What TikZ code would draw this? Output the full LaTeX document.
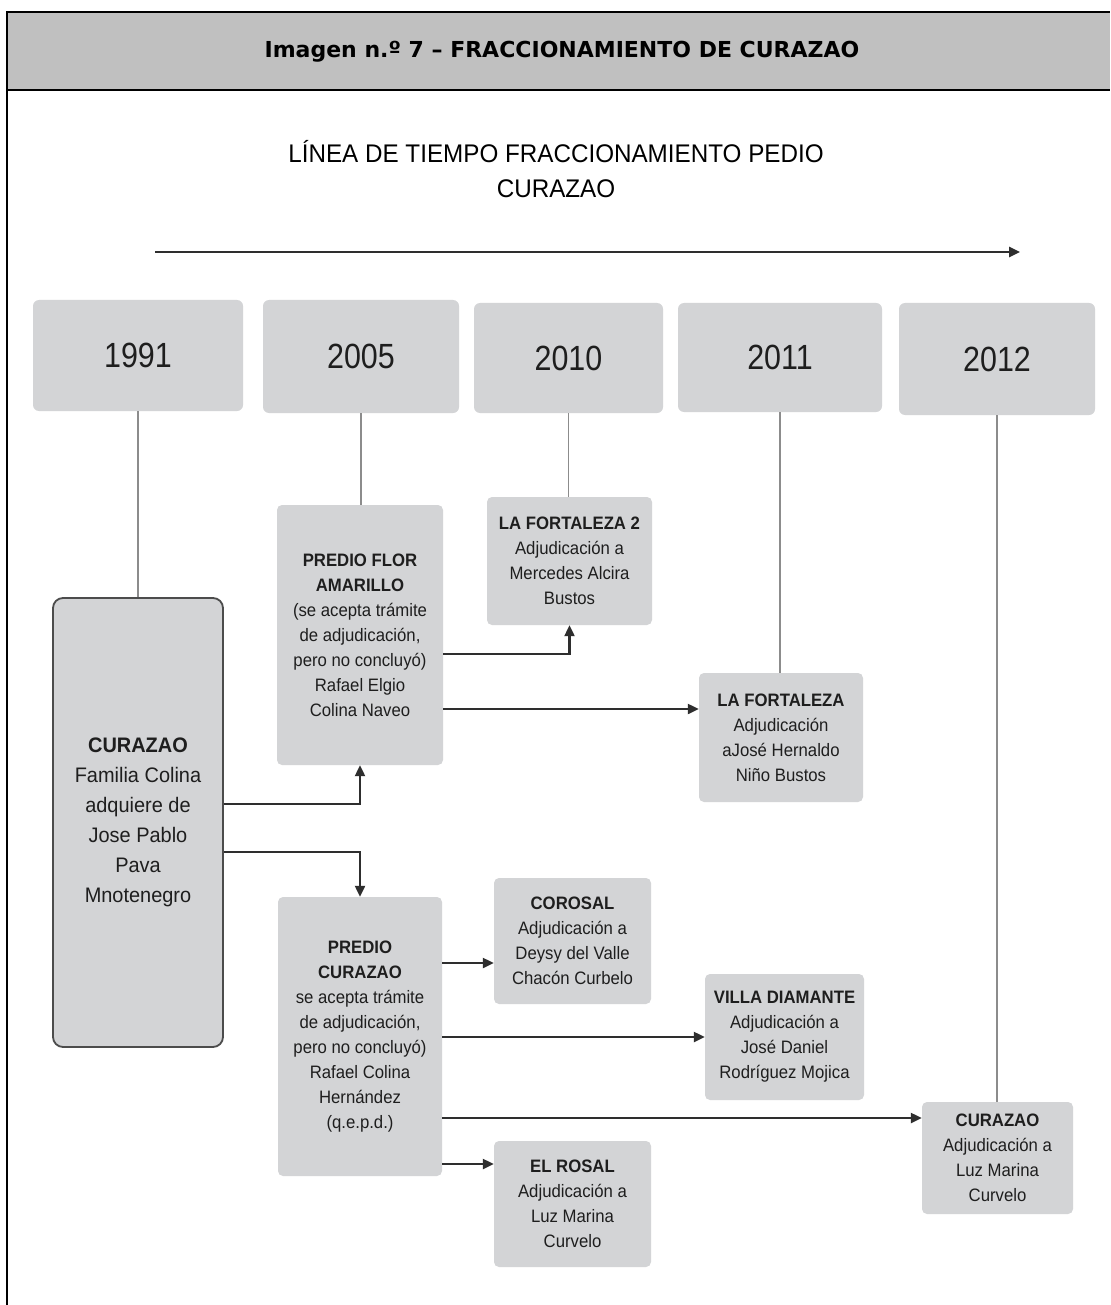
\documentclass[tikz,border=0pt]{standalone}
\usepackage{fontspec}
\setmainfont{Liberation Sans}
\newfontfamily\yearfont[FakeStretch=0.87]{Liberation Sans}
\newfontfamily\boxfont[FakeStretch=0.93]{Liberation Sans}
\newfontfamily\mainfont[FakeStretch=0.95]{Liberation Sans}
\newfontfamily\titlefont{DejaVu Sans}
\usetikzlibrary{arrows.meta}
\definecolor{boxgray}{HTML}{D3D4D6}
\definecolor{headgray}{HTML}{C0C0C0}
\definecolor{linegray}{HTML}{8C8C8C}
\definecolor{arrgray}{HTML}{2E2E2E}
\definecolor{txt}{HTML}{1E1E1E}
\begin{document}
\begin{tikzpicture}[x=1pt,y=-1pt,
 yearbox/.style={fill=boxgray, rounded corners=6pt, inner sep=0pt, text=txt, font=\yearfont\fontsize{35}{40}\selectfont},
 infobox/.style={fill=boxgray, rounded corners=5pt, inner sep=0pt, align=center, text=txt, font=\boxfont\fontsize{18}{25}\selectfont},
 mainbox/.style={fill=boxgray, draw=black!70, line width=1.8pt, rounded corners=10pt, inner sep=0pt, align=center, text=txt, font=\mainfont\fontsize{21}{30}\selectfont},
 vline/.style={draw=linegray, line width=1.4pt},
 conn/.style={draw=arrgray, line width=2.2pt, -{Triangle[length=11pt,width=10pt]}},
 frame/.style={draw=black, line width=2.6pt},
]
\useasboundingbox (0,0) rectangle (1110,1305);
\fill[white] (0,0) rectangle (1110,1305);
% header
\fill[headgray] (7,12) rectangle (1110,90);
\draw[frame] (7,1305) -- (7,12) -- (1110,12);
\draw[frame] (7,90) -- (1110,90);
\node[font=\titlefont\bfseries\fontsize{22}{26}\selectfont, text=black] (title) at (562,52) {Imagen n.º 7 – FRACCIONAMIENTO DE CURAZAO};
\node[font=\mainfont\fontsize{25.5}{35}\selectfont, align=center, text=black] (sub) at (556,169) {LÍNEA DE TIEMPO FRACCIONAMIENTO PEDIO\\CURAZAO};
% timeline
\coordinate (tl0) at (155,252);
\coordinate (tl1) at (1020,252);
\draw[conn, line width=2.4pt] (tl0) -- (tl1);
% years
\node[yearbox, minimum width=210pt, minimum height=111pt] (y1991) at (138,355.5) {1991};
\node[yearbox, minimum width=196pt, minimum height=113pt] (y2005) at (361,356.5) {2005};
\node[yearbox, minimum width=189pt, minimum height=110pt] (y2010) at (568.5,358) {2010};
\node[yearbox, minimum width=204pt, minimum height=109pt] (y2011) at (780,357.5) {2011};
\node[yearbox, minimum width=196pt, minimum height=112pt] (y2012) at (997,359) {2012};
% boxes
\node[mainbox, minimum width=170pt, minimum height=449pt] (main) at (138,822.5)
 {\textbf{CURAZAO}\\Familia Colina\\adquiere de\\Jose Pablo\\Pava\\Mnotenegro};
\node[infobox, minimum width=166pt, minimum height=260pt] (flor) at (360,635)
 {\textbf{PREDIO FLOR}\\\textbf{AMARILLO}\\(se acepta trámite\\de adjudicación,\\pero no concluyó)\\Rafael Elgio\\Colina Naveo};
\node[infobox, minimum width=165pt, minimum height=128pt] (fort2) at (569.5,561)
 {\textbf{LA FORTALEZA 2}\\Adjudicación a\\Mercedes Alcira\\Bustos};
\node[infobox, minimum width=164pt, minimum height=129pt] (fort) at (781,737.5)
 {\textbf{LA FORTALEZA}\\Adjudicación\\aJosé Hernaldo\\Niño Bustos};
\node[infobox, minimum width=164pt, minimum height=279pt] (pcur) at (360,1036.5)
 {\textbf{PREDIO}\\\textbf{CURAZAO}\\se acepta trámite\\de adjudicación,\\pero no concluyó)\\Rafael Colina\\Hernández\\(q.e.p.d.)};
\node[infobox, minimum width=157pt, minimum height=126pt] (corosal) at (572.5,941)
 {\textbf{COROSAL}\\Adjudicación a\\Deysy del Valle\\Chacón Curbelo};
\node[infobox, minimum width=159pt, minimum height=126pt] (villa) at (784.5,1037)
 {\textbf{VILLA DIAMANTE}\\Adjudicación a\\José Daniel\\Rodríguez Mojica};
\node[infobox, minimum width=151pt, minimum height=112pt] (curr) at (997.5,1158)
 {\textbf{CURAZAO}\\Adjudicación a\\Luz Marina\\Curvelo};
\node[infobox, minimum width=157pt, minimum height=126pt] (rosal) at (572.5,1204)
 {\textbf{EL ROSAL}\\Adjudicación a\\Luz Marina\\Curvelo};
% vertical lines
\draw[vline] (y1991.south) -- (y1991.south |- main.north);
\draw[vline] (y2005.south) -- (y2005.south |- flor.north);
\draw[vline] (y2010.south) -- (y2010.south |- fort2.north);
\draw[vline] (y2011.south) -- (y2011.south |- fort.north);
\draw[vline] (y2012.south) -- (y2012.south |- curr.north);
% connectors
\draw[conn] (main.east |- 0,804) -| (flor.south);
\draw[conn] (main.east |- 0,852) -| (pcur.north);
\draw[conn] (flor.east |- 0,654) -| (fort2.south);
\draw[conn] (flor.east |- 0,709) -- (fort.west |- 0,709);
\draw[conn] (pcur.east |- 0,963) -- (corosal.west |- 0,963);
\draw[conn] (pcur.east |- 0,1037) -- (villa.west |- 0,1037);
\draw[conn] (pcur.east |- 0,1118) -- (curr.west |- 0,1118);
\draw[conn] (pcur.east |- 0,1164) -- (rosal.west |- 0,1164);
\end{tikzpicture}
\end{document}
